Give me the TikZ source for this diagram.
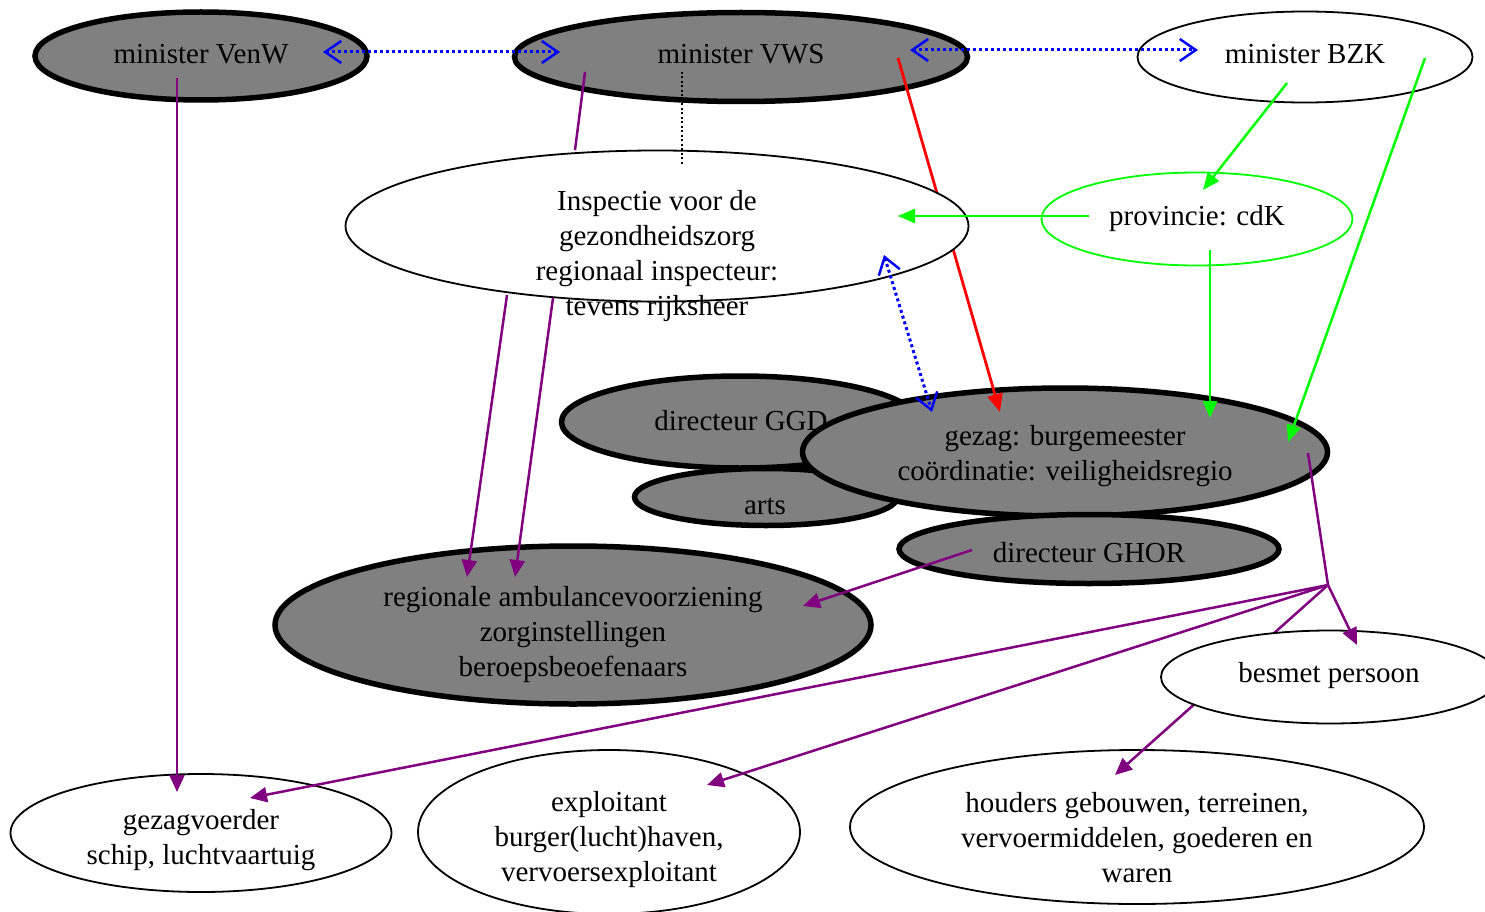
\documentclass[tikz,border=0pt]{standalone}
\usepackage{fontspec}
\setmainfont{Liberation Serif}
\usetikzlibrary{shapes.geometric,arrows.meta}
\definecolor{fgray}{RGB}{128,128,128}
\definecolor{vgreen}{RGB}{0,255,0}
\definecolor{vpurple}{RGB}{128,0,128}
\definecolor{vblue}{RGB}{0,0,255}
\definecolor{vred}{RGB}{255,0,0}
\begin{document}
\begin{tikzpicture}[x=1pt,y=-1pt,
  ell/.style={ellipse, inner sep=0pt},
  bigell/.style={ell, draw=black, line width=5.5pt, fill=fgray},
  thinell/.style={ell, draw=black, line width=1.8pt, fill=white},
  greenell/.style={ell, draw=vgreen, line width=1.8pt, fill=white},
  txt/.style={font=\fontsize{29}{35}\selectfont, align=center, inner sep=0pt},
  parr/.style={draw=vpurple, line width=2.5pt, -{Triangle[length=17pt,width=15pt]}},
  pline/.style={draw=vpurple, line width=2.5pt},
  garr/.style={draw=vgreen, line width=2.5pt, -{Triangle[length=17pt,width=14pt]}},
  rarr/.style={draw=vred, line width=2.8pt, -{Triangle[length=18pt,width=15pt]}},
  barr/.style={draw=vblue, line width=3pt, dash pattern=on 3pt off 3pt,
    {Straight Barb[length=16pt,width=22pt,line width=2.5pt]}-{Straight Barb[length=16pt,width=22pt,line width=2.5pt]}},
  kdot/.style={draw=black, line width=1.8pt, dash pattern=on 2pt off 2.5pt}
]
\useasboundingbox (0,0) rectangle (1485,912);

% ellipses (back layer)
\node[bigell, minimum width=332pt, minimum height=88pt] (venw) at (201,56) {};
\node[bigell, minimum width=453pt, minimum height=89pt] (vws) at (741,57) {};
\node[thinell, minimum width=335pt, minimum height=91pt] (bzk) at (1305,57) {};
\node[bigell, minimum width=263pt, minimum height=57pt] (arts) at (766,497) {};
\node[bigell, minimum width=357pt, minimum height=92pt] (ggd) at (740,422) {};
\node[bigell, minimum width=525pt, minimum height=128pt] (gezag) at (1065,452) {};
\node[bigell, minimum width=380pt, minimum height=69pt] (ghor) at (1089,549) {};
\node[bigell, minimum width=596pt, minimum height=158pt] (reg) at (573,625) {};
\node[greenell, minimum width=311pt, minimum height=93pt] (prov) at (1197,219) {};
\node[thinell, minimum width=381pt, minimum height=118pt] (gzv) at (201,833) {};
\node[thinell, minimum width=382pt, minimum height=164pt] (expl) at (609,832) {};
\node[thinell, minimum width=574pt, minimum height=154pt] (houd) at (1137,827) {};

% connector end points
\coordinate (vwsR) at (898,58);
\coordinate (gezagR) at (1000,412);
\coordinate (venwB) at (177,78);
\coordinate (gzvT) at (177,792);
\coordinate (venwE) at (323,52);
\coordinate (vwsW) at (560,52);
\coordinate (vwsE) at (910,50);
\coordinate (bzkW) at (1198,50);
\coordinate (vwsDot) at (682,72);
\coordinate (inspDot) at (682,165);
\coordinate (vwsP) at (585,72);
\coordinate (inspP) at (575,150);
\coordinate (inspB1) at (507,295);
\coordinate (inspB2) at (553,298);
\coordinate (reg1) at (467,577);
\coordinate (reg2) at (515,577);
\coordinate (inspBl) at (884,255);
\coordinate (gezagBl) at (932,412);
\coordinate (ghorW) at (972,550);
\coordinate (regE) at (803,606);
\coordinate (gezagP) at (1308,453);
\coordinate (hub) at (1328,585);
\coordinate (gzvE) at (250,798);
\coordinate (explT) at (707,785);
\coordinate (houdT) at (1115,775);
\coordinate (besT) at (1357,645);
\coordinate (bzkA) at (1287,83);
\coordinate (provT) at (1203,190);
\coordinate (bzkB) at (1425,58);
\coordinate (gezagG2) at (1288,442);
\coordinate (provW) at (1089,216);
\coordinate (inspE) at (898,216);
\coordinate (provB) at (1210,250);
\coordinate (gezagG1) at (1210,418);

% red line lies under the Inspectie ellipse
\draw[rarr] (vwsR) -- (gezagR);

\node[thinell, minimum width=623pt, minimum height=151pt] (insp) at (657,226) {};

% texts
\node[txt] (venwT) at (201,54) {minister VenW};
\node[txt] (vwsT) at (741,54) {minister VWS};
\node[txt] (bzkT) at (1305,54) {minister BZK};
\node[txt] (inspT) at (657,256) {Inspectie voor de\\gezondheidszorg\\regionaal inspecteur:\\tevens rijksheer};
\node[txt] (provTx) at (1197,219) {provincie: cdK};
\node[txt] (ggdT) at (741,421) {directeur GGD};
\node[txt] (artsT) at (765,506) {arts};
\node[txt] (gezagT) at (1065,456) {gezag: burgemeester\\coördinatie: veiligheidsregio};
\node[txt] (ghorT) at (1089,553) {directeur GHOR};
\node[txt] (regT) at (573,635) {regionale ambulancevoorziening\\zorginstellingen\\beroepsbeoefenaars};
\node[txt] (gzvTx) at (201,840) {gezagvoerder\\schip, luchtvaartuig};
\node[txt] (explTx) at (609,840) {exploitant\\burger(lucht)haven,\\vervoersexploitant};
\node[txt] (houdTx) at (1137,838) {houders gebouwen, terreinen,\\vervoermiddelen, goederen en\\waren};

% connectors
\draw[barr] (venwE) -- (vwsW);
\draw[barr] (vwsE) -- (bzkW);
\draw[barr] (inspBl) -- (gezagBl);
\draw[kdot] (vwsDot) -- (inspDot);
\draw[pline] (vwsP) -- (inspP);
\draw[parr] (venwB) -- (gzvT);
\draw[parr] (inspB1) -- (reg1);
\draw[parr] (inspB2) -- (reg2);
\draw[parr] (ghorW) -- (regE);
\draw[pline] (gezagP) -- (hub);
\draw[parr] (hub) -- (gzvE);
\draw[parr] (hub) -- (explT);
\draw[parr] (hub) -- (houdT);
\draw[garr] (bzkA) -- (provT);
\draw[garr] (bzkB) -- (gezagG2);
\draw[garr] (provW) -- (inspE);
\draw[garr] (provB) -- (gezagG1);

% besmet persoon on top of the line to houders
\node[thinell, minimum width=338pt, minimum height=93pt] (bes) at (1330,677) {};
\node[txt] (besTx) at (1329,676) {besmet persoon};
\draw[parr] (hub) -- (besT);
\end{tikzpicture}
\end{document}
